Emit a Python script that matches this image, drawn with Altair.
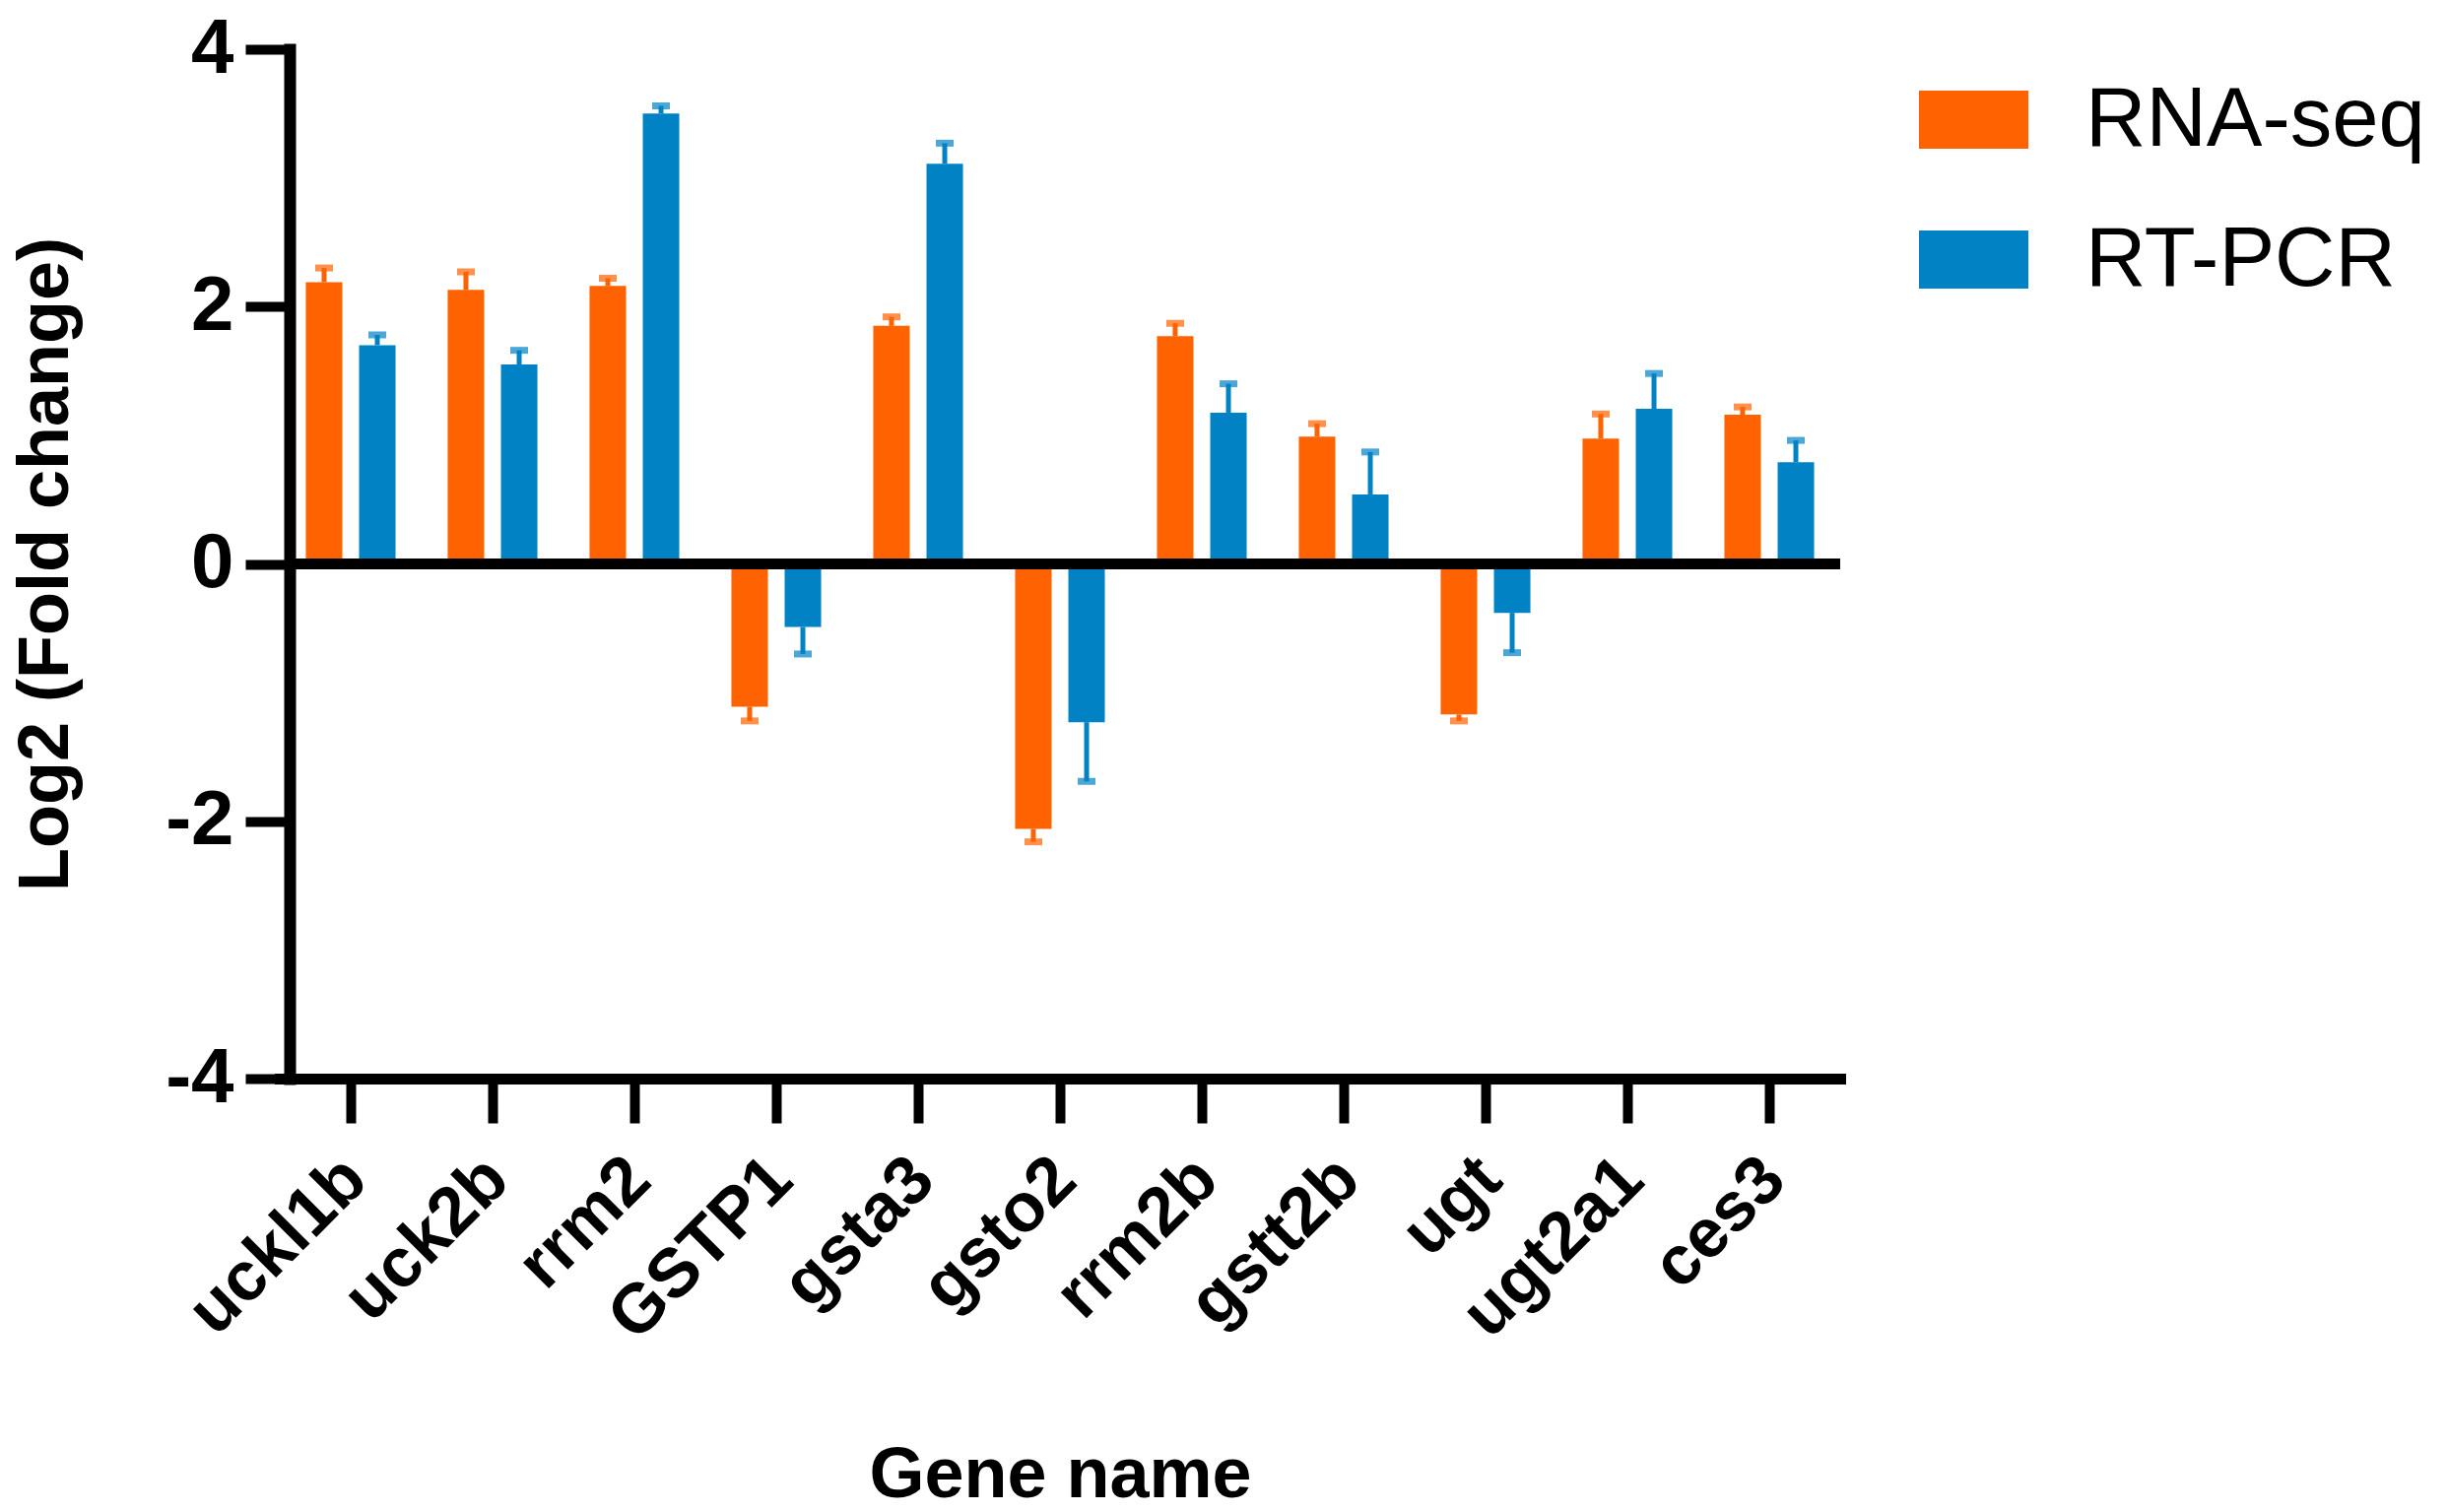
import altair as alt
import pandas as pd

genes = ["uckl1b", "uck2b", "rrm2", "GSTP1", "gsta3", "gsto2",
         "rrm2b", "gstt2b", "ugt", "ugt2a1", "ces3"]
methods = ["RNA-seq", "RT-PCR"]
rna_seq = [2.19, 2.13, 2.16, -1.11, 1.85, -2.06, 1.77, 0.99, -1.17, 0.975, 1.16]
rna_seq_err = [0.11, 0.14, 0.06, 0.11, 0.07, 0.10, 0.10, 0.10, 0.05, 0.19, 0.06]
rt_pcr = [1.70, 1.55, 3.50, -0.49, 3.11, -1.23, 1.175, 0.54, -0.38, 1.205, 0.79]
rt_pcr_err = [0.08, 0.11, 0.06, 0.21, 0.16, 0.46, 0.225, 0.33, 0.31, 0.275, 0.17]
colors = ["#FF6200", "#0082C4"]
y_ticks = [-4, -2, 0, 2, 4]

rows = []
for i, g in enumerate(genes):
    for m, vals, errs in ((methods[0], rna_seq, rna_seq_err), (methods[1], rt_pcr, rt_pcr_err)):
        v = vals[i]
        e = errs[i]
        rows.append({"gene": g, "method": m, "value": v, "err": e,
                     "end": v + (e if v >= 0 else -e)})
df = pd.DataFrame(rows)

FONT = "Liberation Sans"
W, H = 1574, 1045

x_enc = alt.X("gene:N", sort=genes,
              scale=alt.Scale(domain=genes, paddingInner=0, paddingOuter=0, range=[-10, W]),
              axis=alt.Axis(title="Gene name", labelAngle=315, labelAlign="right",
                            labelBaseline="middle", labelFontSize=70, labelFont=FONT,
                            labelFontWeight="bold", labelColor="black", labelPadding=46,
                            labelOffset=5, labelLimit=0, labelOverlap=False,
                            tickSize=45, tickWidth=10, tickColor="black",
                            domainWidth=11, domainColor="black", domainCap="square",
                            titleFontSize=72, titleFont=FONT, titleFontWeight="bold",
                            titleColor="black", titleY=424, titleBaseline="alphabetic",
                            grid=False))
xoff = alt.XOffset("method:N", sort=methods,
                   scale=alt.Scale(domain=methods, paddingInner=0.315, paddingOuter=0.49))
y_scale = alt.Scale(domain=[-4, 4], nice=False)
y_axis = alt.Axis(values=y_ticks, title="Log2 (Fold change)", labelExpr="datum.value",
                  labelFontSize=78, labelFont=FONT, labelFontWeight="bold",
                  labelColor="black", labelPadding=12, labelLimit=0,
                  tickSize=45, tickWidth=10, tickColor="black",
                  domainWidth=12, domainColor="black", domainCap="square",
                  titleFontSize=72, titleFont=FONT, titleFontWeight="bold",
                  titleColor="black", titleX=-211, titleBaseline="bottom", grid=False)
color_scale = alt.Scale(domain=methods, range=colors)

base = alt.Chart(df).encode(x=x_enc, xOffset=xoff)

bars = base.mark_bar().encode(
    y=alt.Y("value:Q", scale=y_scale, axis=y_axis),
    color=alt.Color("method:N", scale=color_scale, sort=methods,
                    legend=alt.Legend(title=None)),
)
stems = base.mark_rule(strokeWidth=5).encode(
    y=alt.Y("value:Q", scale=y_scale, title="Log2 (Fold change)"),
    y2="end:Q",
    color=alt.Color("method:N", scale=color_scale, legend=None),
)
caps = base.mark_tick(size=18, thickness=7).encode(
    y=alt.Y("end:Q", scale=y_scale, title="Log2 (Fold change)"),
    color=alt.Color("method:N", scale=color_scale, legend=None),
)
zero = alt.Chart(pd.DataFrame({"z": [0]})).mark_rule(strokeWidth=11, color="black").encode(
    y=alt.Y("z:Q", scale=y_scale, title="Log2 (Fold change)")
)

chart = alt.layer(bars, stems, caps, zero).properties(
    width=W, height=H,
    autosize=alt.AutoSizeParams(type="none"),
    padding={"left": 286, "top": 42, "right": 605, "bottom": 431},
).configure_view(stroke=None).configure_legend(
    orient="none", legendX=1654, legendY=16, padding=0,
    labelFontSize=85, labelFont=FONT, labelFontWeight="normal", labelColor="black",
    labelLimit=0,
    symbolType="M-1,-0.53L1,-0.53L1,0.53L-1,0.53Z", symbolSize=12321,
    symbolStrokeWidth=0, rowPadding=43, labelOffset=58,
)

chart.save("out.html", embed_options={"renderer": "svg", "actions": False})
